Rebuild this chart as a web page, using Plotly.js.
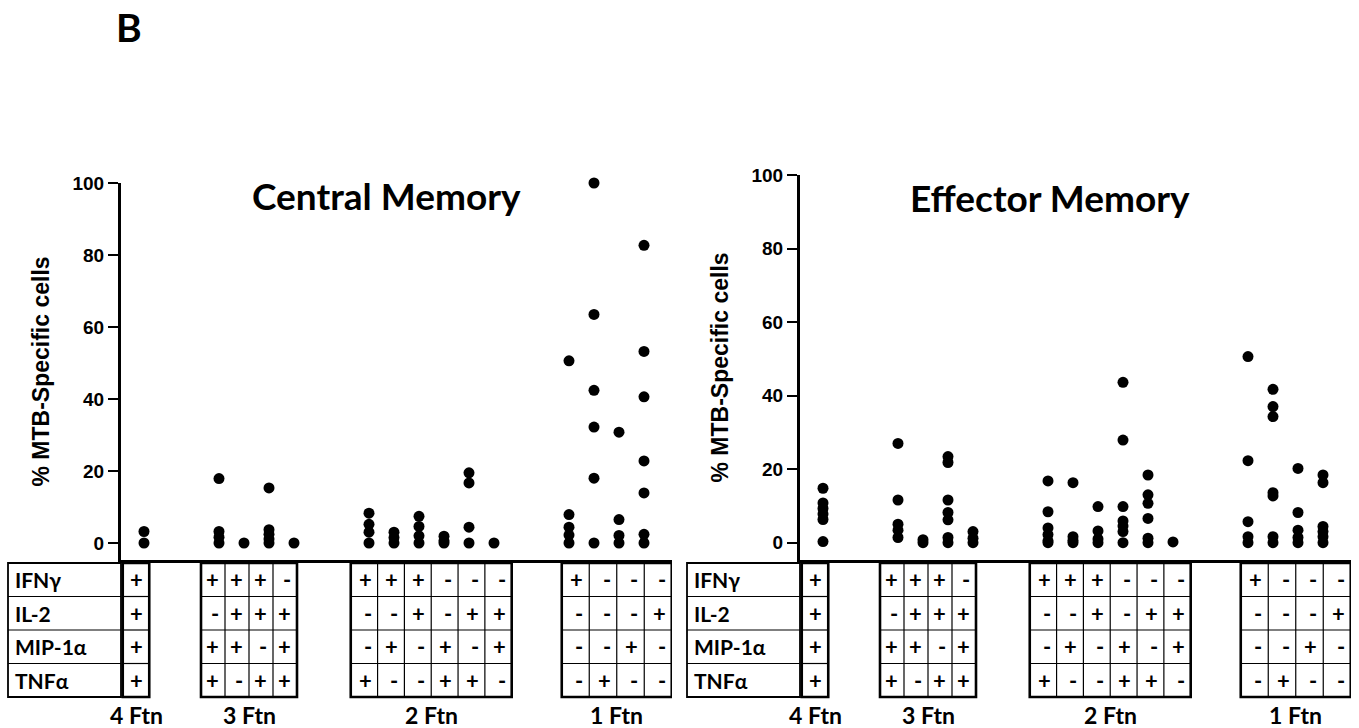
<!DOCTYPE html>
<html><head><meta charset="utf-8">
<script src="https://cdn.plot.ly/plotly-3.0.1.min.js"></script>
<style>html,body{margin:0;padding:0;background:#fff;}#chart{width:1359px;height:728px;}</style>
</head><body><div id="chart"></div>
<script>
// ---------------- DATA ----------------
const cytokines = ['IFNγ', 'IL-2', 'MIP-1α', 'TNFα'];
const groupLabels = ['4 Ftn', '3 Ftn', '2 Ftn', '1 Ftn'];
// +/- pattern of each column, in cytokine order (IFNγ, IL-2, MIP-1α, TNFα)
const combos = ['++++',
  '+-++', '+++-', '++-+', '-+++',
  '+--+', '+-+-', '++--', '--++', '-+-+', '-++-',
  '+---', '---+', '--+-', '-+--'];
const panelTitles = ['Central Memory', 'Effector Memory'];
const yAxisTitle = '% MTB-Specific cells';
const yTicks = [0, 20, 40, 60, 80, 100];
const centralMemory = [
  [3.2, 0],
  [17.9, 3.2, 1.6, 0],
  [0],
  [15.3, 3.7, 2.4, 1.1, 0],
  [0],
  [8.3, 5.2, 3.0, 0],
  [3.0, 1.5, 0],
  [7.4, 4.6, 2.0, 0],
  [1.9, 0.6, 0],
  [19.5, 16.7, 4.4, 0],
  [0],
  [50.6, 7.9, 4.4, 2.2, 0],
  [100, 63.5, 42.4, 32.2, 18.0, 0],
  [30.8, 6.5, 2.1, 0],
  [82.7, 53.2, 40.6, 22.8, 13.9, 2.4, 0]
];
const effectorMemory = [
  [14.8, 10.8, 9.3, 7.8, 6.3, 0.3],
  [27.0, 11.6, 5.0, 3.4, 1.4],
  [0.8, 0],
  [23.4, 21.8, 11.6, 8.2, 6.2, 1.4, 0],
  [3.0, 1.2, 0],
  [16.8, 8.4, 4.0, 2.2, 0.5, 0],
  [16.3, 1.6, 0.6, 0],
  [9.8, 3.2, 1.0, 0],
  [43.6, 27.9, 9.8, 5.9, 4.5, 3.0, 0],
  [18.4, 13.0, 10.7, 6.6, 1.2, 0],
  [0.2],
  [50.6, 22.3, 5.7, 1.6, 0],
  [41.7, 37.0, 34.3, 13.6, 12.7, 1.6, 0],
  [20.2, 8.2, 3.4, 1.4, 0],
  [18.4, 16.3, 4.4, 3.0, 1.6, 0]
];
const panelData = [centralMemory, effectorMemory];

// ---------------- LAYOUT CONSTANTS ----------------
const W = 1359, H = 728;
const X = px => px / W;
const Y = py => 1 - py / H;
const GROUP_GAP = 2;
const panels = [
  {xPx: [121, 672], yPx: [183, 560], labelLeft: 8, xa: 'x', ya: 'y', titleX: 386, titleY: 196, yTitleX: 40},
  {xPx: [800, 1351], yPx: [175, 560], labelLeft: 687, xa: 'x2', ya: 'y2', titleX: 1050, titleY: 198, yTitleX: 719}
];
const XRANGE = [-0.92, 21.12];
const YRANGE = [-4.72, 100];
// table cell geometry in x-data units per group
const tableStart = [-0.85, 2.28, 8.27, 16.71];
const tableCell = [1.06, 0.96, 1.073, 1.1];
const tableTop = 563, tableBottom = 697;
const rowH = (tableBottom - tableTop) / 4;
const groupLabelY = 715;

const BLACK = '#000';
const calibri = 'Lato, Carlito, Calibri, "Open Sans", sans-serif';
const arial = '"Liberation Sans", Arial, sans-serif';

// group index & x position of each column
const groupOf = combos.map(c => 4 - (c.match(/\+/g) || []).length);
const xPos = combos.map((c, i) => i + GROUP_GAP * groupOf[i]);

const traces = [];
const shapes = [];
const annotations = [];
const layout = {
  width: W, height: H,
  margin: {l: 0, r: 0, t: 0, b: 0},
  paper_bgcolor: '#fff', plot_bgcolor: 'rgba(0,0,0,0)',
  showlegend: false,
  shapes: shapes, annotations: annotations
};

panels.forEach((p, pi) => {
  const sfx = pi === 0 ? '' : '2';
  // scatter points
  const xs = [], ys = [];
  panelData[pi].forEach((vals, ci) => {
    vals.forEach(v => { xs.push(xPos[ci]); ys.push(v); });
  });
  traces.push({
    type: 'scatter', mode: 'markers', x: xs, y: ys,
    xaxis: p.xa, yaxis: p.ya, cliponaxis: false,
    marker: {size: 11, color: BLACK, line: {width: 0}},
    hoverinfo: 'y'
  });
  layout['xaxis' + sfx] = {
    domain: [X(p.xPx[0]), X(p.xPx[1])], range: XRANGE, anchor: p.ya,
    showgrid: false, zeroline: false, showticklabels: false, ticks: '',
    showline: true, linecolor: BLACK, linewidth: 3, fixedrange: true
  };
  layout['yaxis' + sfx] = {
    domain: [Y(p.yPx[1]), Y(p.yPx[0])], range: YRANGE, anchor: p.xa,
    showgrid: false, zeroline: false, tickvals: yTicks, ticktext: yTicks.map(String),
    ticks: 'outside', ticklen: 10, tickwidth: 2, tickcolor: BLACK,
    tickfont: {family: arial, size: 19, color: BLACK, weight: 'bold'},
    showline: true, linecolor: BLACK, linewidth: 3, fixedrange: true
  };
  // panel title
  annotations.push({xref: 'paper', yref: 'paper', x: X(p.titleX), y: Y(p.titleY),
    xanchor: 'center', yanchor: 'middle', showarrow: false,
    text: '<b>' + panelTitles[pi] + '</b>', font: {family: calibri, size: 37, color: BLACK}});
  // y-axis title
  annotations.push({xref: 'paper', yref: 'paper', x: X(p.yTitleX), y: Y((p.yPx[0] + p.yPx[1]) / 2),
    xanchor: 'center', yanchor: 'middle', showarrow: false, textangle: -90,
    text: '<b>' + yAxisTitle + '</b>', font: {family: arial, size: 23, color: BLACK}});

  // ----- table -----
  const axisPx = p.xPx[0];
  // label box (outside plot area, paper coordinates)
  shapes.push({type: 'rect', xref: 'paper', yref: 'paper', x0: X(p.labelLeft), x1: X(axisPx),
    y0: Y(tableBottom), y1: Y(tableTop), line: {color: BLACK, width: 1.8}});
  for (let r = 1; r < 4; r++) {
    shapes.push({type: 'line', xref: 'paper', yref: 'paper', x0: X(p.labelLeft), x1: X(axisPx),
      y0: Y(tableTop + r * rowH), y1: Y(tableTop + r * rowH), line: {color: BLACK, width: 1.2}});
  }
  cytokines.forEach((c, r) => {
    annotations.push({xref: 'paper', yref: 'paper', x: X(p.labelLeft + 5), y: Y(tableTop + (r + 0.5) * rowH),
      xanchor: 'left', yanchor: 'middle', showarrow: false,
      text: '<b>' + c + '</b>', font: {family: calibri, size: 21, color: BLACK}});
  });
  // group boxes
  groupLabels.forEach((gl, g) => {
    const cols = combos.map((c, i) => i).filter(i => groupOf[i] === g);
    const n = cols.length;
    const x0 = tableStart[g], cw = tableCell[g], x1 = x0 + n * cw;
    for (let k = 1; k < n; k++) {
      shapes.push({type: 'line', xref: p.xa, yref: 'paper', x0: x0 + k * cw, x1: x0 + k * cw,
        y0: Y(tableBottom), y1: Y(tableTop), line: {color: BLACK, width: 1.2}});
    }
    for (let r = 1; r < 4; r++) {
      shapes.push({type: 'line', xref: p.xa, yref: 'paper', x0: x0, x1: x1,
        y0: Y(tableTop + r * rowH), y1: Y(tableTop + r * rowH), line: {color: BLACK, width: 1.2}});
    }
    shapes.push({type: 'rect', xref: p.xa, yref: 'paper', x0: x0, x1: x1,
      y0: Y(tableBottom), y1: Y(tableTop), line: {color: BLACK, width: 2.6}});
    cols.forEach((ci, k) => {
      combos[ci].split('').forEach((s, r) => {
        annotations.push({xref: p.xa, yref: 'paper', x: x0 + (k + 1) * cw, y: Y(tableTop + (r + 0.5) * rowH),
          xanchor: 'right', yanchor: 'middle', xshift: -4, showarrow: false,
          text: '<b>' + s + '</b>', font: {family: calibri, size: 22, color: BLACK}});
      });
    });
    annotations.push({xref: p.xa, yref: 'paper', x: (x0 + x1) / 2, y: Y(groupLabelY),
      xanchor: 'center', yanchor: 'middle', showarrow: false,
      text: '<b>' + gl + '</b>', font: {family: calibri, size: 23, color: BLACK}});
  });
});

// panel letter
annotations.push({xref: 'paper', yref: 'paper', x: X(114), y: Y(27), xanchor: 'left', yanchor: 'middle',
  showarrow: false, text: '<b>B</b>', font: {family: calibri, size: 39, color: BLACK}});

Plotly.newPlot('chart', traces, layout, {displayModeBar: false, staticPlot: true});
</script>
</body></html>
